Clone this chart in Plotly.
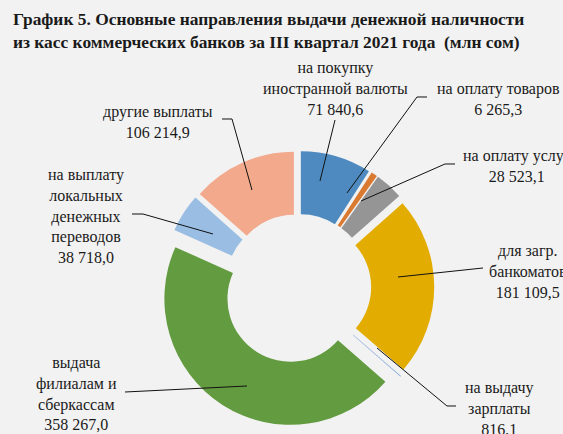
import plotly.graph_objects as go

# ---- data ----
categories = [
    "на покупку иностранной валюты",
    "на оплату товаров",
    "на оплату услуг",
    "для загр. банкоматов",
    "на выдачу зарплаты",
    "выдача филиалам и сберкассам",
    "на выплату локальных денежных переводов",
    "другие выплаты",
]
values = [71840.6, 6265.3, 28523.1, 181109.5, 816.1, 358267.0, 38718.0, 106214.9]
value_labels = ["71 840,6", "6 265,3", "28 523,1", "181 109,5", "816,1", "358 267,0", "38 718,0", "106 214,9"]
label_lines = [
    ["на покупку", "иностранной валюты"],
    ["на оплату товаров"],
    ["на оплату услуг"],
    ["для загр.", "банкоматов"],
    ["на выдачу", "зарплаты"],
    ["выдача", "филиалам и", "сберкассам"],
    ["на выплату", "локальных", "денежных", "переводов"],
    ["другие выплаты"],
]

# ---- style ----
colors = ["#4E8AC0", "#DA7A31", "#959595", "#E2AC00", "#8FB0DC", "#639B40", "#9ABEE3", "#F2A98C"]
pulls = [0.08, 0.08, 0.08, 0.08, 0.08, 0.11, 0.08, 0.08]
W, H = 563, 434
BG = "#F2F2F2"
FONT = "Liberation Serif"

def px(x):
    return x / W

def py(y):
    return 1 - y / H

# label centres (pixel positions in the page)
label_pos = [(335, 88), (498, 99), (517, 166), (528, 271), (499, 408), (77, 393), (86, 216), (158, 122)]
# leader lines (pixel positions)
leaders = [
    [(335, 120), (320, 181)],
    [(427, 97), (417, 97), (347, 193)],
    [(455, 164), (445, 164), (361, 201)],
    [(483, 268), (398, 277)],
    [(456, 406), (447, 406), (377, 348)],
    [(125, 392), (247, 386)],
    [(132, 214), (143, 214), (213, 234)],
    [(222, 119), (232, 119), (252, 190)],
]

cx, cy, D = 298, 287, 280
fig = go.Figure(go.Pie(
    labels=categories,
    values=values,
    hole=0.5,
    sort=False,
    direction="clockwise",
    rotation=0,
    pull=pulls,
    marker=dict(colors=colors, line=dict(width=0)),
    textinfo="none",
    hoverinfo="label+value",
    showlegend=False,
    domain=dict(x=[px(cx - D / 2), px(cx + D / 2)], y=[py(cy + D / 2), py(cy - D / 2)]),
))

annotations = []
for lines, val, (x, y) in zip(label_lines, value_labels, label_pos):
    annotations.append(dict(
        x=px(x), y=py(y), xref="paper", yref="paper",
        text="<br>".join(lines + [val]),
        showarrow=False, xanchor="center", yanchor="middle", align="center",
        font=dict(family=FONT, size=16, color="#1A1A1A"),
    ))

annotations.append(dict(
    x=px(11), y=py(31), xref="paper", yref="paper",
    text="<b>График 5. Основные направления выдачи денежной наличности</b><br>"
         "<b>из касс коммерческих банков за III квартал 2021 года &nbsp;(млн сом)</b>",
    showarrow=False, xanchor="left", yanchor="middle", align="left",
    font=dict(family=FONT, size=17.4, color="#1A1A1A"),
))

shapes = []
for pts in leaders:
    path = "M " + " L ".join(f"{px(a):.5f},{py(b):.5f}" for a, b in pts)
    shapes.append(dict(type="path", path=path, xref="paper", yref="paper",
                       line=dict(color="#111111", width=1)))

fig.update_layout(
    width=W, height=H,
    margin=dict(l=0, r=0, t=0, b=0),
    paper_bgcolor=BG, plot_bgcolor=BG,
    annotations=annotations,
    shapes=shapes,
)

fig.write_html(
    "out.html",
    config={"displayModeBar": False},
    post_script="document.body.style.margin='0';document.body.style.background='#F2F2F2';",
)
